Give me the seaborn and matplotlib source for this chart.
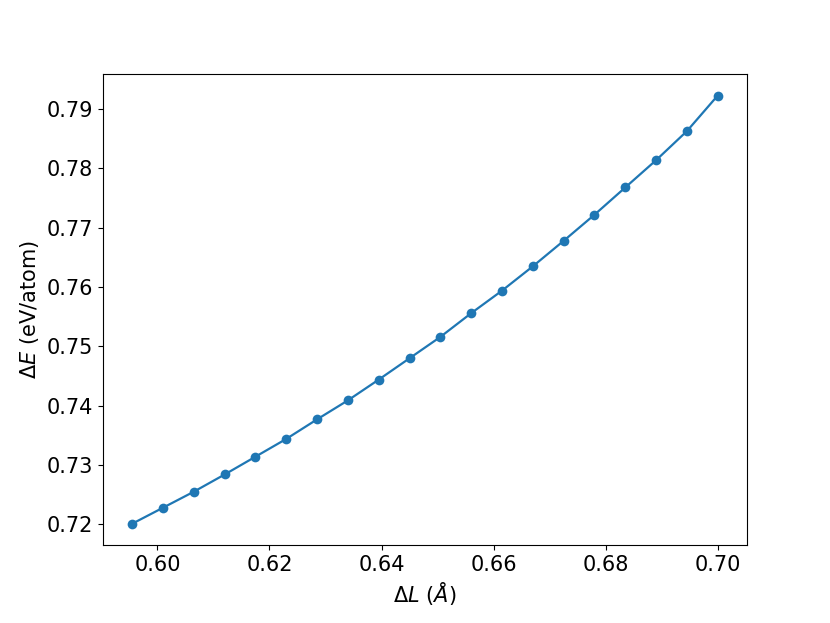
import matplotlib
matplotlib.use('Agg')
import matplotlib.pyplot as plt
import seaborn as sns
import pandas as pd

# strain vs energy
delta_L = [0.5955, 0.6010, 0.6065, 0.6120, 0.6175, 0.6230, 0.6285, 0.6340,
           0.6395, 0.6450, 0.6505, 0.6560, 0.6615, 0.6670, 0.6725, 0.6780,
           0.6835, 0.6890, 0.6945, 0.7000]
delta_E = [0.7201, 0.7228, 0.7255, 0.7284, 0.7314, 0.7344, 0.7377, 0.7409,
           0.7444, 0.7480, 0.7516, 0.7556, 0.7594, 0.7635, 0.7678, 0.7722,
           0.7768, 0.7814, 0.7863, 0.7923]

df = pd.DataFrame({'dL': delta_L, 'dE': delta_E})

plt.rcParams['font.size'] = 15
fig = plt.figure(figsize=(8.3, 6.23), dpi=100)
ax = fig.add_axes([0.124, 0.125, 0.776, 0.756])
sns.lineplot(data=df, x='dL', y='dE', marker='o', markersize=7,
             markeredgewidth=0, color='#1f77b4', linewidth=1.6, ax=ax)
ax.set_xlabel(r'$\Delta L\ (\AA)$')
ax.set_ylabel(r'$\Delta E$ (eV/atom)')
ax.set_xticks([0.60, 0.62, 0.64, 0.66, 0.68, 0.70])
ax.set_yticks([0.72, 0.73, 0.74, 0.75, 0.76, 0.77, 0.78, 0.79])
fig.savefig('out.png', dpi=100)
plt.close(fig)
